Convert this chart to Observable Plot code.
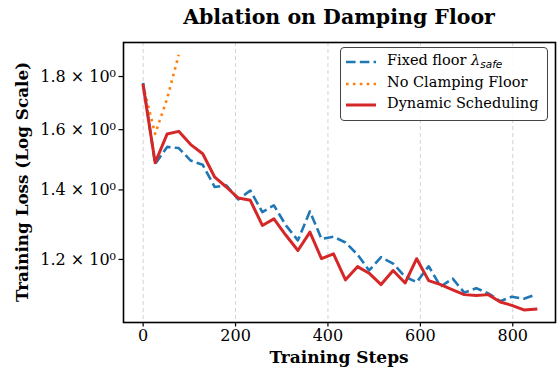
<!DOCTYPE html>
<html>
<head>
<meta charset="utf-8">
<script src="https://cdn.jsdelivr.net/npm/d3@7"></script>
<script src="https://cdn.jsdelivr.net/npm/@observablehq/plot@0.6"></script>
<style>
  body { margin: 0; background: #fff; }
  #chart { position: relative; width: 560px; height: 373px; font-family: "DejaVu Serif", serif; }
  .abs { position: absolute; white-space: nowrap; }
  #title { left: 0; width: 678px; text-align: center; top: 3px; font-weight: bold; font-size: 20.5px; line-height: 28px; }
  #xlabel { left: 0; width: 678px; text-align: center; top: 346px; font-weight: bold; font-size: 17px; line-height: 22px; }
  #ylabel { left: 22px; top: 182px; font-weight: bold; font-size: 16.8px; line-height: 22px; transform: translate(-50%, -50%) rotate(-90deg); }
  #legend { left: 340px; top: 47px; width: 206px; height: 72px; border: 1px solid #444; border-radius: 4px; background: rgba(255,255,255,0.85); font-size: 14.5px; }
  .row { position: absolute; left: 0; height: 20px; }
  .row svg { position: absolute; left: 4px; top: 4px; }
  .row span { position: absolute; left: 46px; top: 0px; }
  sub { font-family: "DejaVu Sans", sans-serif; font-style: italic; font-size: 10.5px; vertical-align: -3px; }
</style>
</head>
<body>
<div id="chart"></div>
<script>
const steps = [0, 26, 52, 77, 103, 129, 155, 180, 206, 232, 258, 283, 309, 335, 361, 386, 412, 438, 464, 489, 515, 541, 567, 592, 618, 644, 670, 695, 721, 747, 773, 798, 824, 850];
const fixedFloor = [1.775, 1.483, 1.540, 1.536, 1.494, 1.480, 1.409, 1.414, 1.371, 1.398, 1.333, 1.353, 1.294, 1.252, 1.335, 1.256, 1.262, 1.246, 1.213, 1.171, 1.206, 1.189, 1.155, 1.141, 1.182, 1.130, 1.150, 1.115, 1.126, 1.113, 1.094, 1.105, 1.100, 1.110];
const noClamping = [1.765, 1.585, 1.714, 1.889];
const dynamicSched = [1.765, 1.487, 1.585, 1.594, 1.548, 1.517, 1.440, 1.409, 1.375, 1.368, 1.294, 1.313, 1.266, 1.224, 1.275, 1.202, 1.215, 1.147, 1.181, 1.164, 1.135, 1.171, 1.139, 1.202, 1.145, 1.135, 1.122, 1.110, 1.108, 1.110, 1.092, 1.084, 1.073, 1.075];
const seriesNames = ["Fixed floor", "No Clamping Floor", "Dynamic Scheduling"];
const xTicks = [0, 200, 400, 600, 800];
const yTicks = [1.2, 1.4, 1.6, 1.8];
const xDomain = [-42.5, 892.5];
const yDomain = [1.0435, 1.941];

const toRows = (vals) => vals.map((v, i) => ({step: steps[i], loss: v}));
const fixedRows = toRows(fixedFloor);
const noClampRows = toRows(noClamping);
const dynRows = toRows(dynamicSched);

const plot = Plot.plot({
  width: 560,
  height: 373,
  marginLeft: 123,
  marginRight: 5,
  marginTop: 42,
  marginBottom: 51,
  style: {fontFamily: "DejaVu Serif, serif", fontSize: "16px", color: "#000", background: "transparent"},
  x: {domain: xDomain, label: null},
  y: {type: "log", domain: yDomain, label: null},
  marks: [
    Plot.gridX(xTicks, {stroke: "#bbb", strokeOpacity: 0.65, strokeDasharray: "4,3", strokeWidth: 1}),
    Plot.axisX({ticks: xTicks, tickSize: 4.5, tickPadding: 3, strokeWidth: 1.2, label: null, tickFormat: d => String(d)}),
    Plot.axisY({ticks: yTicks, tickSize: 4.5, tickPadding: 3, strokeWidth: 1.2, label: null, tickFormat: d => `${d.toFixed(1)} × 10⁰`}),
    Plot.line(fixedRows, {x: "step", y: "loss", stroke: "#1f77b4", strokeWidth: 2.6, strokeDasharray: "9.6,4.2", strokeLinecap: "butt", strokeLinejoin: "round"}),
    Plot.line(noClampRows, {x: "step", y: "loss", stroke: "#ff7f0e", strokeWidth: 2.6, strokeDasharray: "2.6,4.3", strokeLinecap: "butt", strokeLinejoin: "round"}),
    Plot.line(dynRows, {x: "step", y: "loss", stroke: "#d62728", strokeWidth: 3, strokeLinecap: "square", strokeLinejoin: "round"}),
    Plot.frame({stroke: "#000", strokeWidth: 1.6})
  ]
});

const chart = document.getElementById("chart");
chart.appendChild(plot);

function addDiv(id, html) {
  const d = document.createElement("div");
  d.id = id; d.className = "abs"; d.innerHTML = html;
  chart.appendChild(d);
  return d;
}
addDiv("title", "Ablation on Damping Floor");
addDiv("xlabel", "Training Steps");
addDiv("ylabel", "Training Loss (Log Scale)");

const legendStyles = [
  {color: "#1f77b4", dash: "9.6,4.2", w: 2.6, label: `${seriesNames[0]} <i>λ</i><sub>safe</sub>`},
  {color: "#ff7f0e", dash: "2.6,4.3", w: 2.6, label: seriesNames[1]},
  {color: "#d62728", dash: "none", w: 3, label: seriesNames[2]}
];
const rowsHtml = legendStyles.map((s, i) =>
  `<div class="row" style="top:${4 + i * 21.6}px">` +
  `<svg width="36" height="12"><line x1="1" y1="6" x2="31" y2="6" stroke="${s.color}" stroke-width="${s.w}" stroke-dasharray="${s.dash}"/></svg>` +
  `<span>${s.label}</span></div>`).join("");
addDiv("legend", rowsHtml);
</script>
</body>
</html>
